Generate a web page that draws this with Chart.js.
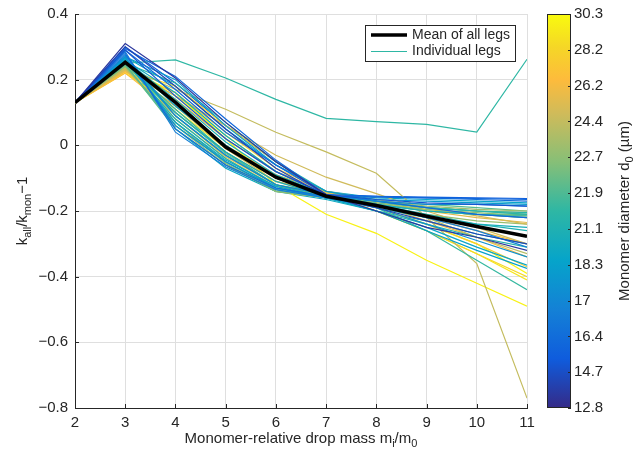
<!DOCTYPE html>
<html>
<head>
<meta charset="utf-8">
<script src="https://cdn.jsdelivr.net/npm/chart.js@4.4.1/dist/chart.umd.min.js"></script>
<style>
    html, body { margin: 0; padding: 0; background: #fff; }
    #wrap { width: 642px; height: 454px; position: relative; }
</style>
</head>
<body>
<div id="wrap"><canvas id="legsChart" width="642" height="454"></canvas></div>
<script>
// ---- data ----
const massRatio = [2, 3, 4, 5, 6, 7, 8, 9, 10, 11];
const meanLeg = [0.13, 0.253, 0.131, -0.005, -0.097, -0.155, -0.183, -0.216, -0.247, -0.277];

// monomer diameter (um) of each leg, and its k_all/k_mon - 1 values
const legDiameters = [
    13.5, 14.2, 15.0, 16.0, 16.4, 16.8, 17.0, 17.5, 16.2,
    18.0, 18.3, 19.0, 20.0, 20.5, 21.1,
    21.5, 21.3, 21.6, 21.9, 21.4, 21.2,
    22.3, 22.7, 23.2,
    24.4, 24.8, 24.0, 25.0, 25.5,
    26.2, 27.0, 27.8,
    28.5, 29.8, 30.0, 29.2,
    22.0, 23.0, 19.5, 20.8, 24.6, 15.5, 18.6, 26.8
];
const legValues = [
    [0.13, 0.31, 0.205, 0.07, -0.05, -0.15, -0.2, -0.25, -0.28, -0.32],
    [0.13, 0.30, 0.18, 0.05, -0.07, -0.155, -0.19, -0.23, -0.27, -0.30],
    [0.13, 0.29, 0.15, 0.02, -0.08, -0.15, -0.165, -0.175, -0.18, -0.185],
    [0.13, 0.295, 0.21, 0.08, -0.045, -0.15, -0.155, -0.16, -0.162, -0.165],
    [0.13, 0.28, 0.05, -0.06, -0.13, -0.155, -0.158, -0.16, -0.165, -0.17],
    [0.13, 0.285, 0.04, -0.065, -0.135, -0.16, -0.18, -0.22, -0.26, -0.31],
    [0.13, 0.275, 0.09, -0.03, -0.12, -0.15, -0.17, -0.18, -0.18, -0.185],
    [0.13, 0.27, 0.06, -0.05, -0.13, -0.16, -0.19, -0.24, -0.29, -0.34],
    [0.13, 0.29, 0.17, 0.04, -0.06, -0.15, -0.17, -0.19, -0.21, -0.22],
    [0.13, 0.27, 0.2, 0.06, -0.06, -0.14, -0.165, -0.17, -0.175, -0.18],
    [0.13, 0.265, 0.12, 0.0, -0.1, -0.155, -0.2, -0.26, -0.32, -0.375],
    [0.13, 0.26, 0.07, -0.045, -0.125, -0.16, -0.2, -0.25, -0.31, -0.365],
    [0.13, 0.26, 0.16, 0.03, -0.08, -0.15, -0.18, -0.2, -0.21, -0.22],
    [0.13, 0.255, 0.1, -0.02, -0.11, -0.155, -0.19, -0.22, -0.24, -0.25],
    [0.13, 0.26, 0.14, 0.01, -0.09, -0.15, -0.18, -0.21, -0.24, -0.26],
    [0.13, 0.25, 0.26, 0.205, 0.14, 0.082, 0.072, 0.064, 0.04, 0.262],
    [0.13, 0.255, 0.08, -0.04, -0.13, -0.155, -0.17, -0.19, -0.2, -0.205],
    [0.13, 0.25, 0.11, -0.02, -0.12, -0.15, -0.19, -0.26, -0.35, -0.44],
    [0.13, 0.245, 0.06, -0.05, -0.135, -0.16, -0.18, -0.2, -0.21, -0.215],
    [0.13, 0.25, 0.19, 0.07, -0.05, -0.14, -0.17, -0.19, -0.2, -0.21],
    [0.13, 0.26, 0.09, -0.03, -0.12, -0.16, -0.2, -0.24, -0.28, -0.31],
    [0.13, 0.245, 0.1, -0.025, -0.12, -0.155, -0.175, -0.19, -0.2, -0.21],
    [0.13, 0.24, 0.07, -0.055, -0.14, -0.16, -0.18, -0.195, -0.205, -0.215],
    [0.13, 0.24, 0.13, 0.0, -0.1, -0.15, -0.17, -0.185, -0.195, -0.2],
    [0.13, 0.24, 0.17, 0.11, 0.04, -0.02, -0.085, -0.22, -0.36, -0.77],
    [0.13, 0.235, 0.15, 0.06, -0.03, -0.097, -0.147, -0.2, -0.25, -0.3],
    [0.13, 0.235, 0.08, -0.04, -0.125, -0.15, -0.18, -0.22, -0.28, -0.33],
    [0.13, 0.23, 0.12, -0.01, -0.11, -0.14, -0.165, -0.19, -0.215, -0.24],
    [0.13, 0.23, 0.09, -0.035, -0.12, -0.145, -0.175, -0.2, -0.22, -0.235],
    [0.13, 0.225, 0.14, 0.02, -0.08, -0.14, -0.18, -0.23, -0.28, -0.34],
    [0.13, 0.22, 0.1, -0.02, -0.11, -0.15, -0.175, -0.195, -0.21, -0.22],
    [0.13, 0.225, 0.16, 0.04, -0.07, -0.14, -0.19, -0.24, -0.3, -0.37],
    [0.13, 0.23, 0.18, 0.06, -0.05, -0.145, -0.2, -0.26, -0.33, -0.4],
    [0.13, 0.235, 0.16, 0.02, -0.12, -0.21, -0.268, -0.35, -0.42, -0.49],
    [0.13, 0.24, 0.15, 0.03, -0.08, -0.15, -0.19, -0.24, -0.3, -0.39],
    [0.13, 0.225, 0.11, -0.01, -0.1, -0.15, -0.2, -0.26, -0.33, -0.41],
    [0.13, 0.245, 0.05, -0.06, -0.14, -0.155, -0.17, -0.18, -0.19, -0.2],
    [0.13, 0.24, 0.06, -0.06, -0.14, -0.16, -0.185, -0.21, -0.23, -0.24],
    [0.13, 0.265, 0.05, -0.07, -0.14, -0.165, -0.2, -0.23, -0.27, -0.3],
    [0.13, 0.255, 0.07, -0.05, -0.13, -0.16, -0.18, -0.2, -0.21, -0.21],
    [0.13, 0.235, 0.07, -0.05, -0.135, -0.15, -0.17, -0.19, -0.2, -0.205],
    [0.13, 0.3, 0.19, 0.06, -0.05, -0.15, -0.155, -0.158, -0.16, -0.162],
    [0.13, 0.27, 0.18, 0.05, -0.06, -0.14, -0.16, -0.165, -0.17, -0.175],
    [0.13, 0.22, 0.12, 0.0, -0.09, -0.14, -0.18, -0.22, -0.26, -0.3]
];

const yTicks = [-0.8, -0.6, -0.4, -0.2, 0, 0.2, 0.4];
const cbTickLabels = ['12.8', '14.7', '16.4', '17', '18.3', '21.1', '21.9', '22.7', '24.4', '26.2', '28.2', '30.3'];

// ---- colours ----
const FONT = "'Liberation Sans', Arial, Helvetica, sans-serif";
const INK = '#262626';
const parulaStops = [
    [0, '#352a87'], [0.125, '#0f5cdd'], [0.25, '#1481d6'], [0.375, '#06a4ca'],
    [0.5, '#2eb7a4'], [0.625, '#87bf77'], [0.75, '#d1bb59'], [0.833, '#fdbb3c'],
    [0.917, '#f5d726'], [1, '#f9fb0e']
];

const hexRgb = (h) => [1, 3, 5].map(i => parseInt(h.substr(i, 2), 16));

const parula = (t) => {
    t = Math.max(0, Math.min(1, t));
    for (let i = 0; i < parulaStops.length - 1; i++) {
        const [t0, c0] = parulaStops[i];
        const [t1, c1] = parulaStops[i + 1];
        if (t <= t1) {
            const f = (t - t0) / (t1 - t0);
            const a = hexRgb(c0), b = hexRgb(c1);
            const rgb = a.map((v, k) => Math.round(v + (b[k] - v) * f));
            return `rgb(${rgb.join(',')})`;
        }
    }
    return parulaStops[parulaStops.length - 1][1];
};

// colorbar ticks are evenly spaced, so map a diameter through them piecewise
const diamToT = (d) => {
    const v = cbTickLabels.map(Number);
    for (let i = 0; i < v.length - 1; i++) {
        if (d <= v[i + 1]) {
            return (i + Math.max(0, (d - v[i]) / (v[i + 1] - v[i]))) / (v.length - 1);
        }
    }
    return 1;
};

const toPoints = (vals) => massRatio.map((x, i) => ({ x: x, y: vals[i] }));

// ---- text with subscripts ----
const drawRich = (ctx, parts, x, y, size) => {
    const subSize = Math.round(size * 0.72);
    const fontOf = (p) => `${p.sub ? subSize : size}px ${FONT}`;
    let total = 0;
    parts.forEach(p => { ctx.font = fontOf(p); total += ctx.measureText(p.t).width; });
    let cx = x - total / 2;
    ctx.textAlign = 'left';
    ctx.textBaseline = 'alphabetic';
    parts.forEach(p => {
        ctx.font = fontOf(p);
        ctx.fillText(p.t, cx, p.sub ? y + size * 0.28 : y);
        cx += ctx.measureText(p.t).width;
    });
};

const decorPlugin = {
    id: 'decor',
    afterDraw(chart) {
        const ctx = chart.ctx;
        const area = chart.chartArea;
        const xs = chart.scales.x, ys = chart.scales.y;
        ctx.save();

        // inward tick marks
        ctx.strokeStyle = INK;
        ctx.lineWidth = 1;
        ctx.beginPath();
        massRatio.forEach(v => {
            const px = Math.round(xs.getPixelForValue(v)) + 0.5;
            ctx.moveTo(px, area.bottom);
            ctx.lineTo(px, area.bottom - 4);
        });
        yTicks.forEach(v => {
            const py = Math.round(ys.getPixelForValue(v)) + 0.5;
            ctx.moveTo(area.left, py);
            ctx.lineTo(area.left + 4, py);
        });
        ctx.stroke();

        // colorbar
        const cb = { left: 547, right: 571, top: area.top, bottom: area.bottom };
        const grad = ctx.createLinearGradient(0, cb.bottom, 0, cb.top);
        parulaStops.forEach(([t, c]) => grad.addColorStop(t, c));
        ctx.fillStyle = grad;
        ctx.fillRect(cb.left, cb.top, cb.right - cb.left, cb.bottom - cb.top);
        ctx.strokeStyle = INK;
        ctx.strokeRect(cb.left + 0.5, cb.top + 0.5, cb.right - cb.left - 1, cb.bottom - cb.top - 1);
        const cs = chart.scales.cb;
        ctx.beginPath();
        cbTickLabels.forEach((_, i) => {
            const py = Math.round(cs.getPixelForValue(i)) + 0.5;
            ctx.moveTo(cb.right, py);
            ctx.lineTo(cb.right - 3, py);
        });
        ctx.stroke();

        // axis titles
        ctx.fillStyle = INK;
        drawRich(ctx, [{ t: 'Monomer-relative drop mass m' }, { t: 'i', sub: true }, { t: '/m' }, { t: '0', sub: true }], 301, 443, 15);

        ctx.save();
        ctx.translate(27, (area.top + area.bottom) / 2);
        ctx.rotate(-Math.PI / 2);
        drawRich(ctx, [{ t: 'k' }, { t: 'all', sub: true }, { t: '/k' }, { t: 'mon', sub: true }, { t: '\u22121' }], 0, 0, 15);
        ctx.restore();

        ctx.save();
        ctx.translate(629, (area.top + area.bottom) / 2);
        ctx.rotate(-Math.PI / 2);
        drawRich(ctx, [{ t: 'Monomer diameter d' }, { t: '0', sub: true }, { t: ' (\u00b5m)' }], 0, 0, 15);
        ctx.restore();

        // legend box
        const lg = { left: 365, top: 25, right: 516, bottom: 62 };
        ctx.fillStyle = '#fff';
        ctx.fillRect(lg.left, lg.top, lg.right - lg.left, lg.bottom - lg.top);
        ctx.strokeStyle = INK;
        ctx.lineWidth = 1;
        ctx.strokeRect(lg.left + 0.5, lg.top + 0.5, lg.right - lg.left - 1, lg.bottom - lg.top - 1);
        ctx.strokeStyle = '#000';
        ctx.lineWidth = 3.5;
        ctx.beginPath();
        ctx.moveTo(371, 35);
        ctx.lineTo(407, 35);
        ctx.stroke();
        ctx.strokeStyle = parula(diamToT(legDiameters[15]));
        ctx.lineWidth = 1;
        ctx.beginPath();
        ctx.moveTo(371, 51.5);
        ctx.lineTo(407, 51.5);
        ctx.stroke();
        ctx.fillStyle = INK;
        ctx.font = `14px ${FONT}`;
        ctx.textAlign = 'left';
        ctx.textBaseline = 'middle';
        ctx.fillText('Mean of all legs', 412, 35);
        ctx.fillText('Individual legs', 412, 51);

        ctx.restore();
    }
};

const datasets = [{
    label: 'Mean of all legs',
    data: toPoints(meanLeg),
    borderColor: '#000',
    borderWidth: 3.5,
    pointRadius: 0,
    tension: 0
}];
legValues.forEach((vals, i) => {
    datasets.push({
        label: 'Individual legs',
        data: toPoints(vals),
        borderColor: parula(diamToT(legDiameters[i])),
        borderWidth: 1.2,
        pointRadius: 0,
        tension: 0
    });
});

const tickFont = { size: 15, family: FONT };
// scales get their own label padding; keep the plot box where the figure has it
const noPad = (s) => { s.paddingTop = 0; s.paddingBottom = 0; s.paddingLeft = 0; s.paddingRight = 0; };

new Chart(document.getElementById('legsChart'), {
    type: 'line',
    data: { datasets: datasets },
    options: {
        responsive: false,
        animation: false,
        events: [],
        layout: { padding: { top: 14, right: 0, bottom: 0, left: 0 } },
        plugins: {
            legend: { display: false },
            tooltip: { enabled: false }
        },
        scales: {
            x: {
                type: 'linear',
                min: 2,
                max: 11,
                afterBuildTicks: (s) => { s.ticks = massRatio.map(v => ({ value: v })); },
                afterFit: (s) => { s.height = 46; noPad(s); },
                grid: { color: '#dfdfdf', drawTicks: false },
                border: { color: INK, width: 1 },
                ticks: { font: tickFont, color: INK, padding: 6, maxRotation: 0 }
            },
            y: {
                type: 'linear',
                min: -0.8,
                max: 0.4,
                afterBuildTicks: (s) => { s.ticks = yTicks.map(v => ({ value: v })); },
                afterFit: (s) => { s.width = 75; noPad(s); },
                grid: { color: '#dfdfdf', drawTicks: false },
                border: { color: INK, width: 1 },
                ticks: {
                    font: tickFont,
                    color: INK,
                    padding: 7,
                    callback: (v) => {
                        const r = Math.round(v * 10) / 10;
                        if (r === 0) return '0';
                        return (r < 0 ? '\u2212' : '') + Math.abs(r).toFixed(1);
                    }
                }
            },
            cb: {
                type: 'linear',
                position: 'right',
                display: true,
                min: 0,
                max: cbTickLabels.length - 1,
                afterBuildTicks: (s) => { s.ticks = cbTickLabels.map((_, i) => ({ value: i })); },
                afterFit: (s) => { s.width = 115; noPad(s); },
                grid: { display: false, drawTicks: false },
                border: { display: false },
                ticks: {
                    font: tickFont,
                    color: INK,
                    padding: 47,
                    callback: (v) => cbTickLabels[Math.round(v)]
                }
            }
        }
    },
    plugins: [decorPlugin]
});
</script>
</body>
</html>
